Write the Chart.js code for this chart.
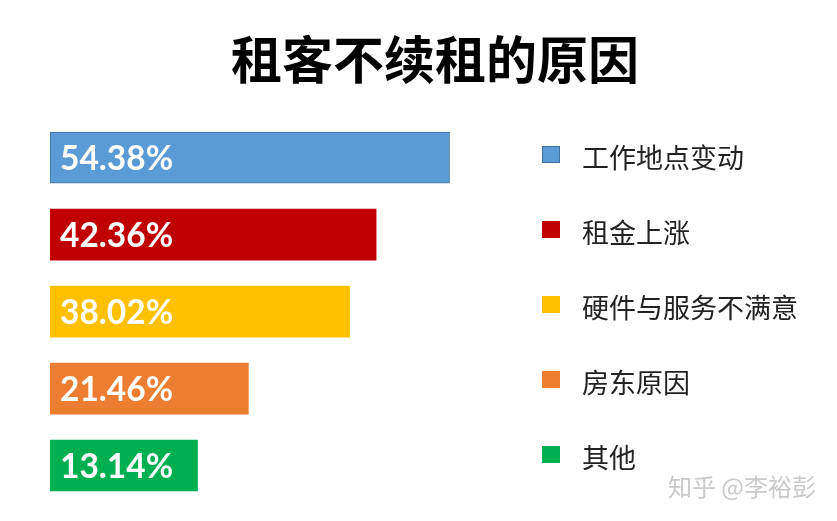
<!DOCTYPE html>
<html>
<head>
<meta charset="utf-8">
<title>租客不续租的原因</title>
<script src="https://cdn.jsdelivr.net/npm/chart.js@4"></script>
<style>
  html, body { margin: 0; padding: 0; background: #fff; }
  #wrap { position: relative; width: 837px; height: 521px; }
</style>
</head>
<body>
<div id="wrap"><canvas id="reasonChart"></canvas></div>
<script>
// data
const categories = ["工作地点变动", "租金上涨", "硬件与服务不满意", "房东原因", "其他"];
const shares = [54.38, 42.36, 38.02, 21.46, 13.14];
const barColors = ["#5B9BD5", "#C00000", "#FFC000", "#ED7D31", "#00B050"];
const barBorders = ["#41719C", "#C00000", "#FFC000", "#ED7D31", "#00B050"];
const watermark = "知乎 @李裕彭";

const CJK = '"Noto Sans CJK SC", "Noto Sans", sans-serif';

// the original bars don't start at zero, so the value axis starts a bit lower
const axisMin = -11;

// white value labels inside the bars
const barLabels = {
  id: "barLabels",
  afterDatasetsDraw(chart) {
    const ctx = chart.ctx;
    const meta = chart.getDatasetMeta(0);
    ctx.save();
    ctx.fillStyle = "#fff";
    ctx.font = "bold 33.5px Lato, sans-serif";
    ctx.textAlign = "left";
    ctx.textBaseline = "alphabetic";
    meta.data.forEach((bar, i) => {
      ctx.fillText(shares[i].toFixed(2) + "%", bar.base + 10, bar.y + 12);
    });
    ctx.restore();
  }
};

// legend column on the right, square + text
const sideLegend = {
  id: "sideLegend",
  afterDraw(chart) {
    const ctx = chart.ctx;
    const startY = 158;
    const gap = 75;
    ctx.save();
    ctx.font = "27px " + CJK;
    ctx.textBaseline = "middle";
    ctx.textAlign = "left";
    categories.forEach((name, i) => {
      const cy = startY + i * gap;
      ctx.fillStyle = barColors[i];
      ctx.fillRect(542, cy - 12, 18, 17);
      if (i === 0) {
        ctx.strokeStyle = barBorders[0];
        ctx.lineWidth = 1;
        ctx.strokeRect(542.5, cy - 11.5, 17, 16);
      }
      ctx.fillStyle = "#222";
      ctx.fillText(name, 582, cy);
    });
    ctx.restore();
  }
};

const markText = {
  id: "markText",
  afterDraw(chart) {
    const ctx = chart.ctx;
    ctx.save();
    ctx.font = "24px " + CJK;
    ctx.textAlign = "right";
    ctx.textBaseline = "middle";
    ctx.fillStyle = "#c9c9c9";
    ctx.fillText(watermark, 816, 487);
    ctx.restore();
  }
};

new Chart(document.getElementById("reasonChart"), {
  type: "bar",
  data: {
    labels: categories,
    datasets: [
      {
        data: shares,
        base: axisMin,
        backgroundColor: barColors,
        borderColor: barBorders,
        borderWidth: [1, 0, 0, 0, 0],
        borderSkipped: false,
        barThickness: 51
      }
    ]
  },
  options: {
    indexAxis: "y",
    responsive: true,
    maintainAspectRatio: false,
    animation: false,
    layout: { padding: { left: 50, right: 17, top: 0, bottom: 17 } },
    scales: {
      x: { display: false, min: axisMin, max: 115 },
      y: { display: false }
    },
    plugins: {
      legend: { display: false },
      tooltip: { enabled: false },
      title: {
        display: true,
        text: "租客不续租的原因",
        color: "#000",
        font: { family: CJK, size: 51, weight: "bold", lineHeight: 1.2 },
        padding: { top: 29, bottom: 29 }
      }
    }
  },
  plugins: [barLabels, sideLegend, markText]
});
</script>
</body>
</html>
